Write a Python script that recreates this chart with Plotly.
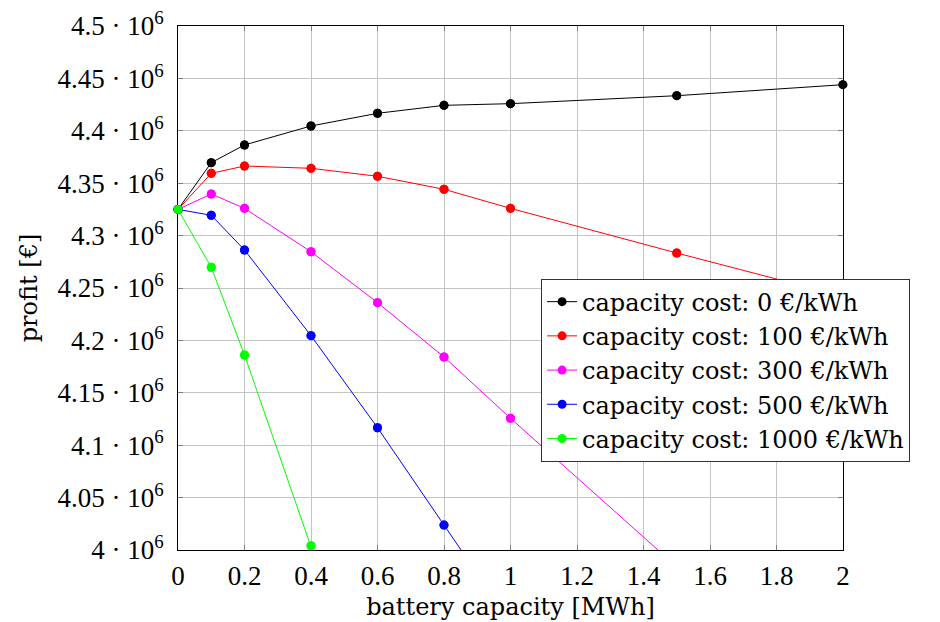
import plotly.graph_objects as go

# battery capacity [MWh]
capacity = [0, 0.1, 0.2, 0.4, 0.6, 0.8, 1.0, 1.5, 2.0]

# profit [€] per capacity cost scenario (values beyond the visible range end the lines at the frame)
profit_0 = [4.325e6, 4.3696e6, 4.3865e6, 4.4046e6, 4.4167e6, 4.4243e6, 4.4259e6, 4.4335e6, 4.4440e6]
profit_100 = [4.325e6, 4.3594e6, 4.3664e6, 4.3642e6, 4.3566e6, 4.3442e6, 4.3260e6, 4.2834e6, 4.242e6]
profit_300 = [4.325e6, 4.3397e6, 4.3260e6, 4.2846e6, 4.2360e6, 4.1842e6, 4.1257e6, 3.984e6]
profit_500 = [4.325e6, 4.3194e6, 4.2863e6, 4.2045e6, 4.1167e6, 4.0238e6, 3.931e6]
profit_1000 = [4.325e6, 4.2698e6, 4.1861e6, 4.0041e6, 3.82e6]

series_names = [
    "capacity cost: 0 €/kWh",
    "capacity cost: 100 €/kWh",
    "capacity cost: 300 €/kWh",
    "capacity cost: 500 €/kWh",
    "capacity cost: 1000 €/kWh",
]
series_values = [profit_0, profit_100, profit_300, profit_500, profit_1000]
series_colors = ["#000000", "#ff0000", "#ff00ff", "#0000ff", "#00ff00"]

y_ticks = [4.0e6, 4.05e6, 4.1e6, 4.15e6, 4.2e6, 4.25e6, 4.3e6, 4.35e6, 4.4e6, 4.45e6, 4.5e6]
y_tick_text = ["4", "4.05", "4.1", "4.15", "4.2", "4.25", "4.3", "4.35", "4.4", "4.45", "4.5"]
x_ticks = [0, 0.2, 0.4, 0.6, 0.8, 1, 1.2, 1.4, 1.6, 1.8, 2]
x_tick_text = ["0", "0.2", "0.4", "0.6", "0.8", "1", "1.2", "1.4", "1.6", "1.8", "2"]

Y_MIN, Y_MAX = 4.0e6, 4.5e6
TICK_FONT = dict(family="Liberation Serif", size=27, color="black")
TEXT_FONT = dict(family="DejaVu Serif", size=24, color="black")

fig = go.Figure()
for name, vals, color in zip(series_names, series_values, series_colors):
    xs = capacity[:len(vals)]
    fig.add_trace(go.Scatter(
        x=xs, y=vals, name=name, mode="lines+markers",
        line=dict(color=color, width=1),
        marker=dict(color=color, size=9),
        cliponaxis=True,
    ))
    # markers inside the frame are drawn unclipped, like pgfplots does
    inside = [(x, v) for x, v in zip(xs, vals) if Y_MIN <= v <= Y_MAX]
    fig.add_trace(go.Scatter(
        x=[p[0] for p in inside], y=[p[1] for p in inside], mode="markers",
        marker=dict(color=color, size=9), showlegend=False,
        cliponaxis=False, hoverinfo="skip",
    ))

axis_common = dict(
    showline=True, linecolor="black", linewidth=1, mirror="ticks",
    showgrid=True, gridcolor="#c4c4c4", gridwidth=1,
    ticks="inside", ticklen=5, tickcolor="#808080",
    zeroline=False, tickfont=TICK_FONT, layer="below traces",
    ticklabeloverflow="allow", automargin=False,
)

# the page body adds an 8px offset, so the figure is 8px smaller each way
fig.update_layout(
    width=932, height=614,
    margin=dict(l=170, r=97, t=18, b=72, autoexpand=False),
    paper_bgcolor="white", plot_bgcolor="white",
    xaxis=dict(
        range=[0, 2], tickvals=x_ticks, ticktext=x_tick_text,
        title=dict(text="battery capacity [MWh]", font=TEXT_FONT, standoff=7),
        ticklabelstandoff=2, **axis_common,
    ),
    yaxis=dict(
        range=[Y_MIN, Y_MAX], tickvals=y_ticks,
        ticktext=[f"{t} · 10<sup>6</sup>" for t in y_tick_text],
        title=dict(text="profit [€]", font=TEXT_FONT, standoff=12),
        ticklabelstandoff=8, **axis_common,
    ),
    legend=dict(
        x=0.546, y=0.518, xanchor="left", yanchor="top",
        bgcolor="white", bordercolor="#333333", borderwidth=1,
        font=TEXT_FONT, itemwidth=30, tracegroupgap=0,
    ),
    showlegend=True,
)

fig.write_html("out.html")
